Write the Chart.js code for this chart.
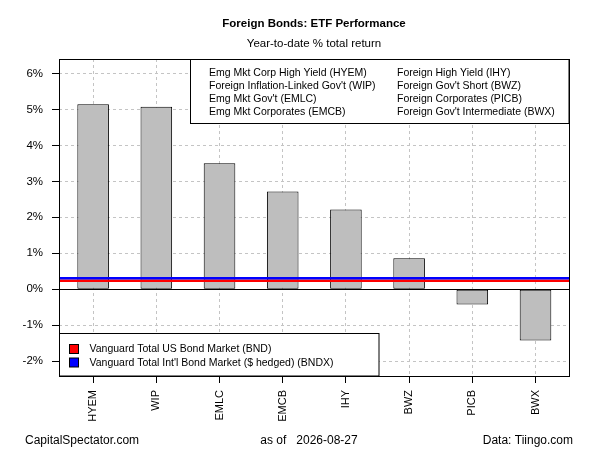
<!DOCTYPE html>
<html>
<head>
<meta charset="utf-8">
<script src="https://cdn.jsdelivr.net/npm/chart.js@4"></script>
<style>
  body { margin: 0; background: #fff; }
  canvas { display: block; }
</style>
</head>
<body>
<canvas id="chartEtf" width="600" height="450"></canvas>
<script>
/* Foreign Bonds: ETF Performance — YTD total return */

const tickers = ['HYEM', 'WIP', 'EMLC', 'EMCB', 'IHY', 'BWZ', 'PICB', 'BWX'];
const ytdReturns = [5.14, 5.07, 3.50, 2.72, 2.22, 0.86, -0.42, -1.42];
const fundNames = [
  'Emg Mkt Corp High Yield (HYEM)',
  "Foreign Inflation-Linked Gov't (WIP)",
  "Emg Mkt Gov't (EMLC)",
  'Emg Mkt Corporates (EMCB)',
  'Foreign High Yield (IHY)',
  "Foreign Gov't Short (BWZ)",
  'Foreign Corporates (PICB)',
  "Foreign Gov't Intermediate (BWX)"
];
const benchmarkNames = ['Vanguard Total US Bond Market (BND)', "Vanguard Total Int'l Bond Market ($ hedged) (BNDX)"];
const benchmarkReturns = [0.24, 0.31];
const benchmarkColors = ['#ff0000', '#0000ff'];
const yTicks = [-2, -1, 0, 1, 2, 3, 4, 5, 6];
const yMin = -2.41;
const yMax = 6.4;
const asOfDate = '2026-08-27';

const FONT = '"Liberation Sans", Arial, sans-serif';

function hline(ctx, area, y, color, width) {
  ctx.save();
  ctx.strokeStyle = color;
  ctx.lineWidth = width;
  ctx.beginPath();
  ctx.moveTo(area.left, y);
  ctx.lineTo(area.right, y);
  ctx.stroke();
  ctx.restore();
}

const overlayPlugin = {
  id: 'overlay',
  afterDatasetsDraw(chart) {
    const { ctx, chartArea: a, scales: { y } } = chart;

    // zero line + benchmark lines
    hline(ctx, a, Math.round(y.getPixelForValue(0)) + 0.5, '#000', 1);
    benchmarkReturns.forEach((v, i) => {
      hline(ctx, a, y.getPixelForValue(v), benchmarkColors[i], 2.5);
    });

    ctx.save();
    ctx.font = '10.5px ' + FONT;
    ctx.textBaseline = 'middle';
    ctx.textAlign = 'left';
    ctx.lineWidth = 1;
    ctx.strokeStyle = '#000';

    // top-right fund legend
    const bx = 190.5, by = Math.round(a.top) + 0.5;
    ctx.fillStyle = '#fff';
    ctx.fillRect(bx, by, a.right - bx, 64);
    ctx.strokeRect(bx, by, a.right - bx, 64);
    ctx.fillStyle = '#000';
    fundNames.forEach((name, i) => {
      const col = Math.floor(i / 4), row = i % 4;
      ctx.fillText(name, col === 0 ? 209 : 397, a.top + 14.5 + row * 13);
    });

    // bottom-left benchmark legend
    const lx = Math.round(a.left) + 0.5, ly = 333.5;
    ctx.fillStyle = '#fff';
    ctx.fillRect(lx, ly, 379 - lx, a.bottom - ly);
    ctx.strokeRect(lx, ly, 379 - lx, a.bottom - ly);
    benchmarkNames.forEach((name, i) => {
      const ry = 349.5 + i * 13.5;
      ctx.fillStyle = benchmarkColors[i];
      ctx.fillRect(69.5, ry - 5, 9, 9);
      ctx.strokeRect(69.5, ry - 5, 9, 9);
      ctx.fillStyle = '#000';
      ctx.fillText(name, 89.5, ry);
    });

    // plot box
    ctx.strokeRect(Math.round(a.left) + 0.5, Math.round(a.top) + 0.5,
      Math.round(a.width), Math.round(a.height));
    ctx.restore();
  },
  afterDraw(chart) {
    const { ctx, chartArea: a } = chart;
    const cx = (a.left + a.right) / 2;
    ctx.save();
    ctx.fillStyle = '#000';
    ctx.textBaseline = 'middle';
    ctx.textAlign = 'center';
    ctx.font = 'bold 11.5px ' + FONT;
    ctx.fillText('Foreign Bonds: ETF Performance', cx, 24);
    ctx.font = '11.5px ' + FONT;
    ctx.fillText('Year-to-date % total return', cx, 44);

    ctx.font = '12px ' + FONT;
    ctx.textAlign = 'left';
    ctx.fillText('CapitalSpectator.com', 25, 441);
    ctx.textAlign = 'center';
    ctx.fillText('as of   ' + asOfDate, 309, 441);
    ctx.textAlign = 'right';
    ctx.fillText('Data: Tiingo.com', 573, 441);
    ctx.restore();
  }
};

const ctx = document.getElementById('chartEtf').getContext('2d');

new Chart(ctx, {
  type: 'bar',
  data: {
    datasets: [{
      data: ytdReturns.map((v, i) => ({ x: i, y: v })),
      backgroundColor: '#bebebe',
      borderColor: '#000',
      borderWidth: 1,
      borderSkipped: false,
      barPercentage: 0.5,
      categoryPercentage: 1
    }]
  },
  options: {
    responsive: false,
    animation: false,
    devicePixelRatio: 1,
    layout: { padding: { top: 59, right: 31, bottom: 0, left: 0 } },
    plugins: {
      legend: { display: false },
      tooltip: { enabled: false },
      title: { display: false }
    },
    scales: {
      x: {
        type: 'linear',
        offset: false,
        min: -0.54,
        max: tickers.length - 1 + 0.53,
        grid: {
          offset: false,
          color: '#c4c4c4',
          tickColor: '#000',
          tickLength: 7,
          tickWidth: 1
        },
        border: { display: false, dash: [3, 3] },
        ticks: {
          autoSkip: false,
          minRotation: 90,
          maxRotation: 90,
          padding: 7,
          color: '#000',
          font: { family: FONT, size: 11 },
          callback: (v) => tickers[v]
        },
        afterBuildTicks(scale) {
          scale.ticks = tickers.map((t, i) => ({ value: i }));
        },
        afterFit(scale) { scale.height = 74; }
      },
      y: {
        min: yMin,
        max: yMax,
        grid: {
          color: '#c4c4c4',
          tickColor: '#000',
          tickLength: 7,
          tickWidth: 1
        },
        border: { display: false, dash: [3, 3] },
        ticks: {
          padding: 9,
          color: '#000',
          font: { family: FONT, size: 11.5 },
          callback: (v) => v + '%'
        },
        afterBuildTicks(scale) {
          scale.ticks = yTicks.map(v => ({ value: v }));
        },
        afterFit(scale) { scale.width = 59; }
      }
    }
  },
  plugins: [overlayPlugin]
});
</script>
</body>
</html>
